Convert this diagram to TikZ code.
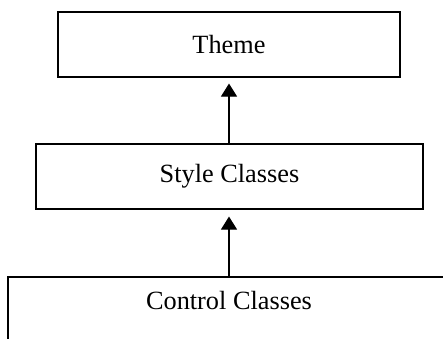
\documentclass[tikz,border=0pt]{standalone}
\usepackage{fontspec}
\setmainfont{Liberation Serif}
\usetikzlibrary{arrows.meta}
\begin{document}
\begin{tikzpicture}[x=1pt,y=-1pt,
  box/.style={draw,line width=1.1pt,rectangle,inner sep=0pt,font=\fontsize{26.3}{30}\selectfont},
  lbl/.style={inner sep=0pt,font=\fontsize{26.3}{30}\selectfont},
  link/.style={line width=1.1pt,-{Triangle[length=13pt,width=16pt]}}]
\useasboundingbox (0,0) rectangle (443,338);
\clip (0,0) rectangle (443,338);
\node[box,minimum width=342pt,minimum height=65pt] (theme) at (229,44.5) {Theme};
\node[box,minimum width=387pt,minimum height=65pt] (style) at (229.5,176.5) {Style Classes};
\node[lbl] (ctl) at (229,300) {Control Classes};
\coordinate (ctltop) at (229,277);
\draw[line width=1.1pt] (8,345) -- (8,277) -- (450,277);
\draw[link,shorten >=6pt] (style.north -| theme.south) -- (theme.south);
\draw[link,shorten >=7pt] (ctltop) -- (style.south -| ctltop);
\end{tikzpicture}
\end{document}
